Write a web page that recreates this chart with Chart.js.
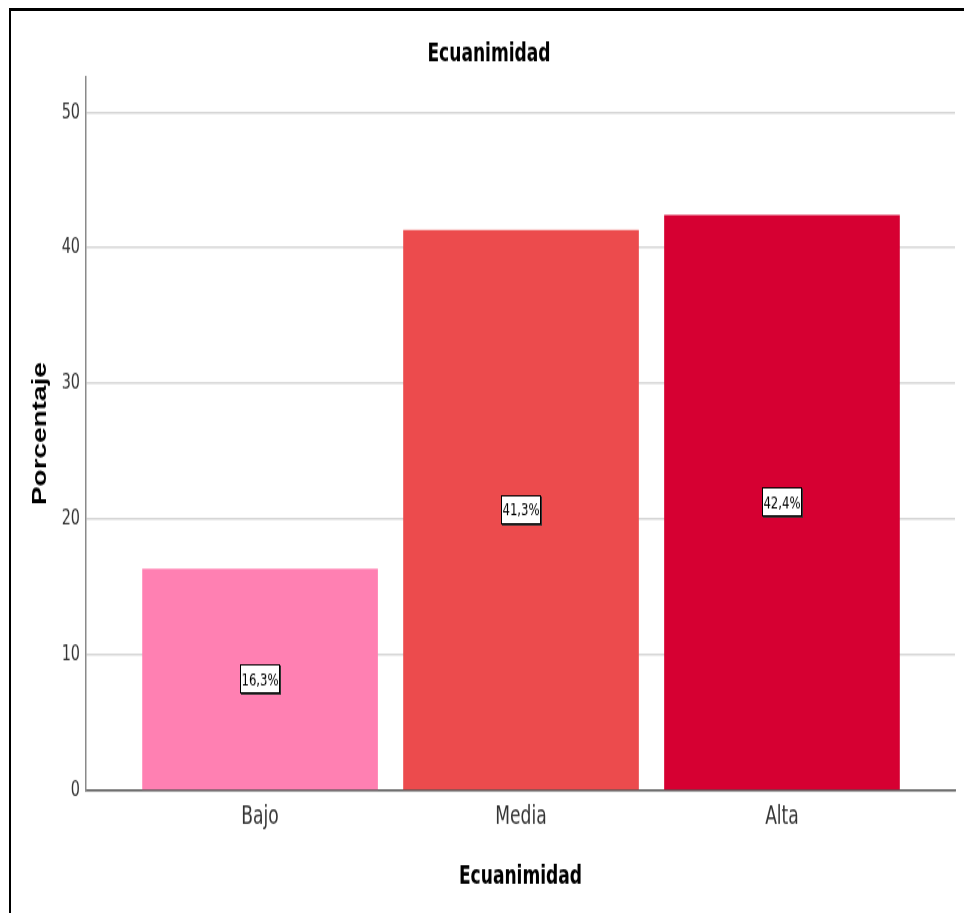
<!DOCTYPE html>
<html>
<head>
<meta charset="utf-8">
<title>Ecuanimidad</title>
<script src="https://cdn.jsdelivr.net/npm/chart.js@4.4.0/dist/chart.umd.min.js"></script>
<style>
  html, body { margin: 0; padding: 0; background: #fff; overflow: hidden; }
  /* the source picture is stretched vertically, so the chart is drawn short and scaled up */
  #wrap { position: absolute; left: 0; top: 0; width: 964px; height: 686px; transform: scaleY(1.331); transform-origin: 0 0; }
  #frame { position: absolute; left: 9px; top: 8px; width: 960px; height: 910px; border-left: 2px solid #000; border-top: 3px solid #000; }
</style>
</head>
<body>
<div id="wrap"><canvas id="chart" width="964" height="686"></canvas></div>
<div id="frame"></div>
<script>
const categories = ['Bajo', 'Media', 'Alta'];
const percentages = [16.3, 41.3, 42.4];
const barColors = ['#FF80B2', '#EC4B4D', '#D60032'];
const yTicks = [0, 10, 20, 30, 40, 50];

const NARROW = "'Liberation Sans Narrow', 'Arial Narrow', 'DejaVu Sans Condensed', sans-serif";

// white value boxes in the middle of each bar
const labelBoxes = {
  id: 'labelBoxes',
  afterDatasetsDraw(chart) {
    const c = chart.ctx;
    const meta = chart.getDatasetMeta(0);
    c.save();
    c.font = '13px ' + NARROW;
    c.textAlign = 'center';
    c.textBaseline = 'middle';
    meta.data.forEach((bar, i) => {
      const text = percentages[i].toFixed(1).replace('.', ',') + '%';
      const w = 40;
      const h = 22;
      const cx = bar.x;
      const cy = (bar.y + bar.base) / 2;
      const x0 = Math.round(cx - w / 2);
      const y0 = Math.round(cy - h / 2);
      c.fillStyle = '#333';
      c.fillRect(x0 + 1, y0 + 1, w, h);
      c.fillStyle = '#fff';
      c.fillRect(x0, y0, w, h);
      c.strokeStyle = '#000';
      c.lineWidth = 1;
      c.strokeRect(x0 + 0.5, y0 + 0.5, w - 1, h - 1);
      c.fillStyle = '#000';
      c.fillText(text, cx, cy + 1);
    });
    c.restore();
  }
};

const ctx = document.getElementById('chart').getContext('2d');
new Chart(ctx, {
  type: 'bar',
  data: {
    datasets: [{
      data: percentages.map((v, i) => ({ x: i, y: v })),
      backgroundColor: barColors,
      borderWidth: 0,
      barThickness: 235
    }]
  },
  options: {
    responsive: false,
    animation: false,
    layout: { padding: { left: 23, right: 9, top: 0, bottom: 0 } },
    plugins: {
      legend: { display: false },
      tooltip: { enabled: false },
      title: {
        display: true,
        text: 'Ecuanimidad',
        color: '#000',
        font: { family: NARROW, size: 19, weight: 'bold' },
        padding: { top: 29.4, bottom: 5.7 }
      }
    },
    scales: {
      x: {
        type: 'linear',
        offset: false,
        min: -0.667,
        max: 2.663,
        grid: { display: false, drawTicks: false },
        border: { display: true, color: '#555', width: 1.5 },
        afterBuildTicks: s => { s.ticks = categories.map((c, i) => ({ value: i })); },
        afterFit: s => { s.height = 92.4; },
        ticks: {
          padding: 9,
          color: '#333',
          maxRotation: 0,
          autoSkip: false,
          font: { family: NARROW, size: 19 },
          callback: v => categories[v]
        },
        title: {
          display: true,
          text: 'Ecuanimidad',
          color: '#000',
          font: { family: NARROW, size: 19, weight: 'bold' },
          padding: { top: 0, bottom: 15.8 }
        }
      },
      y: {
        min: 0,
        max: 52.6,
        grid: { color: '#d6d6d6', lineWidth: 1.6, drawTicks: false },
        border: { display: true, color: '#8a8a8a', width: 1.5 },
        afterBuildTicks: s => { s.ticks = yTicks.map(v => ({ value: v })); },
        afterFit: s => { s.width = 63; },
        ticks: { padding: 6, color: '#333', font: { family: NARROW, size: 16 } },
        title: {
          display: true,
          text: 'Porcentaje',
          color: '#000',
          font: { family: "'Liberation Sans', Arial, sans-serif", size: 21, weight: 'bold' },
          padding: { top: 4.4, bottom: 0 }
        }
      }
    }
  },
  plugins: [labelBoxes]
});
</script>
</body>
</html>
